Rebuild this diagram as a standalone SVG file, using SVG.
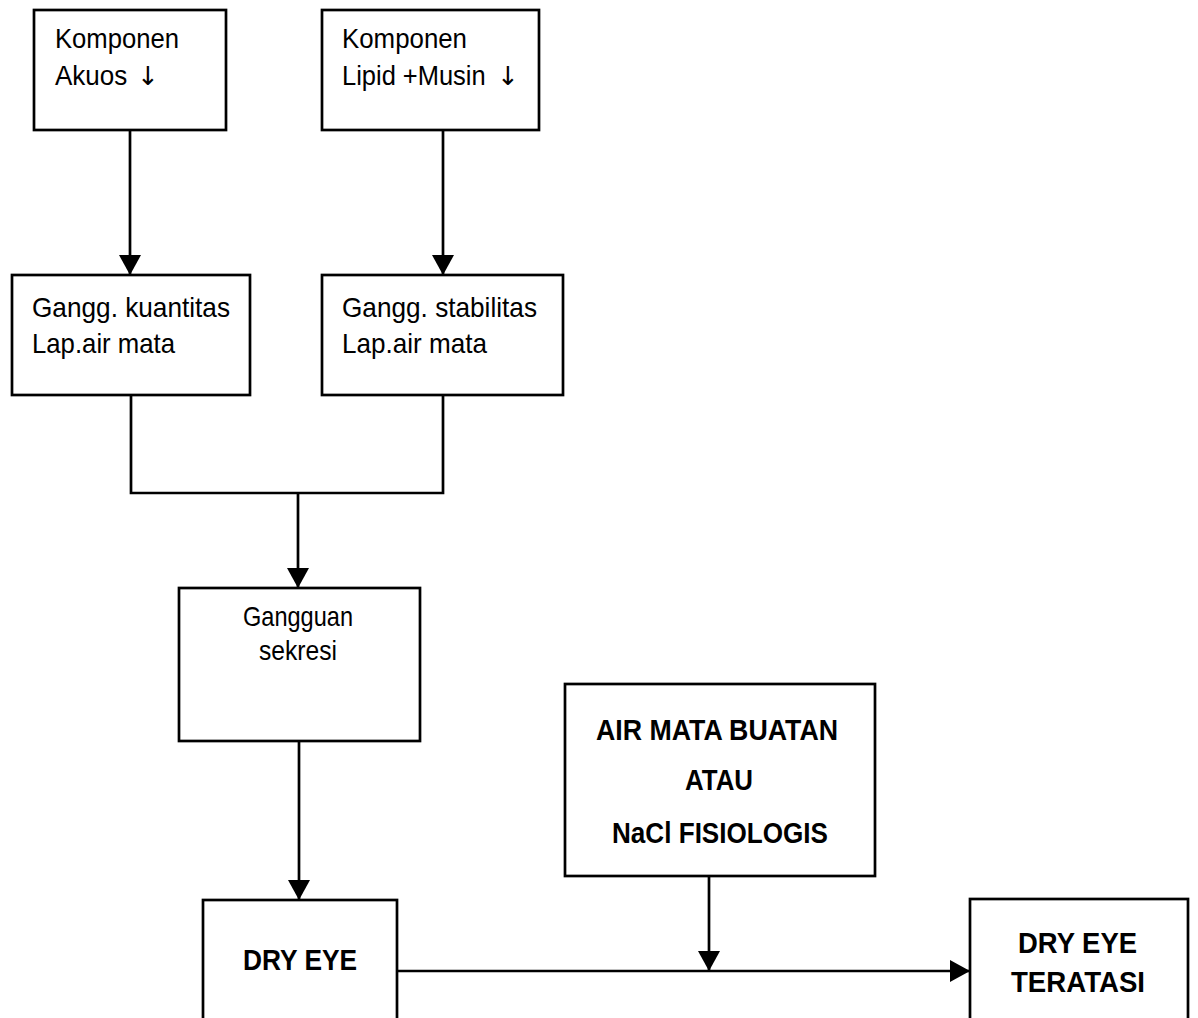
<svg xmlns="http://www.w3.org/2000/svg" width="1198" height="1018" viewBox="0 0 1198 1018">
<style>
.box{fill:none;stroke:#000;stroke-width:2.7}
.ln{fill:none;stroke:#000;stroke-width:2.7}
.t{font-family:"Liberation Sans",Arial,sans-serif;font-size:28px;fill:#000}
.b{font-family:"Liberation Sans",Arial,sans-serif;font-size:29px;font-weight:bold;fill:#000}
.ar{font-family:"DejaVu Sans",sans-serif;font-size:26px;fill:#000}
</style>
<defs>
<marker id="ah" markerWidth="20" markerHeight="22" viewBox="0 0 20 22" refX="20" refY="11" orient="auto" markerUnits="userSpaceOnUse">
<path d="M0,0 L20,11 L0,22 Z" fill="#000"/>
</marker>
</defs>
<rect width="1198" height="1018" fill="#fff"/>
<g id="connectors">
<line class="ln" x1="130" y1="130" x2="130" y2="275" marker-end="url(#ah)"/>
<line class="ln" x1="443" y1="130" x2="443" y2="275" marker-end="url(#ah)"/>
<polyline class="ln" points="131,395 131,493 443,493 443,395"/>
<line class="ln" x1="298" y1="493" x2="298" y2="588" marker-end="url(#ah)"/>
<line class="ln" x1="299" y1="741" x2="299" y2="900" marker-end="url(#ah)"/>
<line class="ln" x1="709" y1="876" x2="709" y2="971" marker-end="url(#ah)"/>
<line class="ln" x1="397" y1="971" x2="970" y2="971" marker-end="url(#ah)"/>
</g>
<g id="n1">
<rect class="box" x="34" y="10" width="192" height="120"/>
<text class="t" x="55" y="48" textLength="124" lengthAdjust="spacingAndGlyphs">Komponen</text>
<text class="t" transform="translate(55,85) scale(0.93,1)">Akuos</text>
<text class="ar" x="137" y="85">↓</text>
</g>
<g id="n2">
<rect class="box" x="322" y="10" width="217" height="120"/>
<text class="t" x="342" y="48" textLength="125" lengthAdjust="spacingAndGlyphs">Komponen</text>
<text class="t" transform="translate(342,85) scale(0.91,1)">Lipid +Musin</text>
<text class="ar" x="497" y="85">↓</text>
</g>
<g id="n3">
<rect class="box" x="12" y="275" width="238" height="120"/>
<text class="t" x="32" y="317" textLength="198" lengthAdjust="spacingAndGlyphs">Gangg. kuantitas</text>
<text class="t" x="32" y="353" textLength="143" lengthAdjust="spacingAndGlyphs">Lap.air mata</text>
</g>
<g id="n4">
<rect class="box" x="322" y="275" width="241" height="120"/>
<text class="t" x="342" y="317" textLength="195" lengthAdjust="spacingAndGlyphs">Gangg. stabilitas</text>
<text class="t" x="342" y="353" textLength="145" lengthAdjust="spacingAndGlyphs">Lap.air mata</text>
</g>
<g id="n5">
<rect class="box" x="179" y="588" width="241" height="153"/>
<text class="t" x="243" y="626" textLength="110" lengthAdjust="spacingAndGlyphs">Gangguan</text>
<text class="t" x="259" y="660" textLength="78" lengthAdjust="spacingAndGlyphs">sekresi</text>
</g>
<g id="n6">
<rect class="box" x="203" y="900" width="194" height="140"/>
<text class="b" x="243" y="970" textLength="114" lengthAdjust="spacingAndGlyphs">DRY EYE</text>
</g>
<g id="n7">
<rect class="box" x="565" y="684" width="310" height="192"/>
<text class="b" x="596" y="740" textLength="242" lengthAdjust="spacingAndGlyphs">AIR MATA BUATAN</text>
<text class="b" x="685" y="790" textLength="68" lengthAdjust="spacingAndGlyphs">ATAU</text>
<text class="b" x="612" y="843" textLength="216" lengthAdjust="spacingAndGlyphs">NaCl FISIOLOGIS</text>
</g>
<g id="n8">
<rect class="box" x="970" y="899" width="218" height="140"/>
<text class="b" x="1018" y="953" textLength="119" lengthAdjust="spacingAndGlyphs">DRY EYE</text>
<text class="b" x="1011" y="992" textLength="134" lengthAdjust="spacingAndGlyphs">TERATASI</text>
</g>
</svg>
